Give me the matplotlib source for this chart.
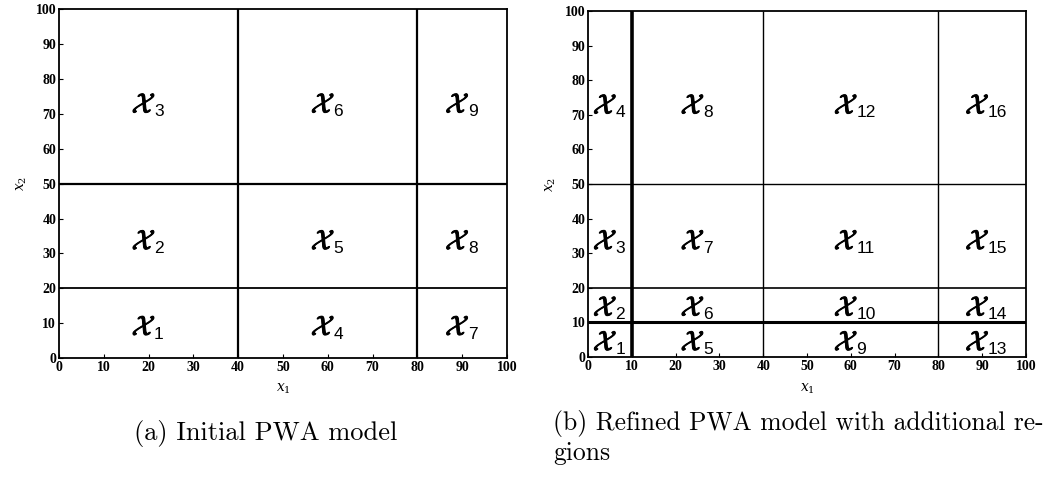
import matplotlib
matplotlib.use("Agg")
import matplotlib.pyplot as plt
import matplotlib.patheffects as pe

# region boundaries of the two partitions of the state space
init_x_edges = [0, 40, 80, 100]
init_y_edges = [0, 20, 50, 100]
refined_x_edges = [0, 10, 40, 80, 100]
refined_y_edges = [0, 10, 20, 50, 100]

tick_values = list(range(0, 101, 10))
caption_a = "(a) Initial PWA model"
caption_b = ["(b) Refined PWA model with additional re-", "gions"]

# line weights for the boundaries (thicker where the refinement was added)
init_lw = {"x": {40: 1.6, 80: 1.6}, "y": {20: 1.3, 50: 1.6}}
refined_lw = {"x": {10: 2.6, 40: 1.0, 80: 1.0}, "y": {10: 2.2, 20: 1.2, 50: 1.0}}

bold_fx = [pe.withStroke(linewidth=0.7, foreground="black")]


def region_label(ax, x, y, k):
    ax.annotate(r"$\mathcal{X}$", (x, y), xytext=(-3.5, -1), textcoords="offset points",
                fontsize=20, math_fontfamily="cm", ha="center", va="center",
                path_effects=bold_fx)
    ax.annotate(str(k), (x, y), xytext=(4, -6), textcoords="offset points",
                fontsize=12.5, fontfamily="Liberation Sans", ha="left", va="center")


def draw_partition(ax, x_edges, y_edges, lw):
    for x in x_edges[1:-1]:
        ax.vlines(x, y_edges[0], y_edges[-1], color="black", lw=lw["x"][x])
    for y in y_edges[1:-1]:
        ax.hlines(y, x_edges[0], x_edges[-1], color="black", lw=lw["y"][y])

    # regions numbered column by column, bottom to top
    k = 1
    for i in range(len(x_edges) - 1):
        for j in range(len(y_edges) - 1):
            cx = 0.5 * (x_edges[i] + x_edges[i + 1])
            cy = y_edges[j] + 0.46 * (y_edges[j + 1] - y_edges[j])
            region_label(ax, cx, cy, k)
            k += 1

    ax.set_xlim(0, 100)
    ax.set_ylim(0, 100)
    ax.set_xticks(tick_values)
    ax.set_yticks(tick_values)
    ax.tick_params(direction="in", length=3, width=0.8, pad=2, labelsize=10)
    for lab in ax.get_xticklabels() + ax.get_yticklabels():
        lab.set_fontfamily("Liberation Serif")
        lab.set_fontweight("bold")
    for s in ax.spines.values():
        s.set_linewidth(1.3)
    ax.set_xlabel(r"$x_1$", fontsize=10, labelpad=6, math_fontfamily="dejavuserif")
    ax.set_ylabel(r"$x_2$", fontsize=10, labelpad=5, math_fontfamily="dejavuserif")


fig = plt.figure(figsize=(10.51, 4.82), dpi=100)
ax1 = fig.add_axes([0.0561, 0.2573, 0.4263, 0.7234])
ax2 = fig.add_axes([0.5595, 0.2593, 0.4167, 0.7179])

draw_partition(ax1, init_x_edges, init_y_edges, init_lw)
draw_partition(ax2, refined_x_edges, refined_y_edges, refined_lw)

fig.text(266 / 1051, 1 - 440 / 482, caption_a, fontfamily="cmr10",
         fontsize=19, ha="center", va="baseline")
for n, line in enumerate(caption_b):
    fig.text(553 / 1051, 1 - (430 + 30 * n) / 482, line, fontfamily="cmr10",
             fontsize=18.4, ha="left", va="baseline")

fig.savefig("out.png", dpi=100)
